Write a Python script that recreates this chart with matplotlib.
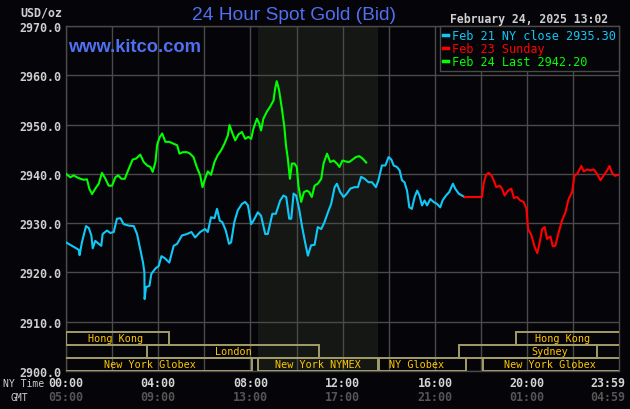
import matplotlib
matplotlib.use("Agg")
import matplotlib.pyplot as plt
from matplotlib.patches import Rectangle
from matplotlib.transforms import blended_transform_factory

# Feb 21 (NY time hours, price)
feb21_t = [0.00, 0.26, 0.55, 0.59, 0.69, 0.87, 0.99, 1.10, 1.16, 1.27, 1.42, 1.53, 1.59, 1.78, 1.92, 2.07,
           2.21, 2.36, 2.50, 2.72, 2.94, 3.08, 3.22, 3.34, 3.40, 3.41, 3.47, 3.62, 3.70, 3.88, 4.02, 4.14,
           4.28, 4.48, 4.67, 4.82, 5.03, 5.25, 5.44, 5.60, 5.82, 6.03, 6.15, 6.29, 6.44, 6.55, 6.67, 6.78,
           6.93, 7.07, 7.16, 7.30, 7.45, 7.63, 7.77, 7.89, 8.03, 8.13, 8.32, 8.46, 8.64, 8.75, 8.95, 9.10,
           9.29, 9.43, 9.55, 9.68, 9.77, 9.87, 9.98, 10.11, 10.23, 10.37, 10.49, 10.63, 10.78, 10.92, 11.07,
           11.21, 11.36, 11.50, 11.65, 11.75, 11.89, 12.04, 12.18, 12.33, 12.51, 12.66, 12.80, 12.95, 13.12,
           13.27, 13.44, 13.55, 13.70, 13.85, 13.99, 14.11, 14.21, 14.35, 14.47, 14.57, 14.68, 14.79, 14.89,
           15.00, 15.12, 15.23, 15.33, 15.44, 15.55, 15.66, 15.80, 15.94, 16.09, 16.23, 16.33, 16.48, 16.62,
           16.78, 16.88, 17.03, 17.17, 17.29]
feb21_p = [2926.1, 2925.4, 2924.6, 2923.5, 2926.1, 2929.4, 2929.0, 2927.5, 2924.9, 2926.4, 2925.8, 2925.4,
           2927.8, 2928.5, 2928.0, 2928.2, 2930.9, 2931.0, 2929.8, 2929.5, 2929.4, 2927.8, 2924.7, 2922.0,
           2920.0, 2914.6, 2917.0, 2917.3, 2919.7, 2920.8, 2921.3, 2923.3, 2922.9, 2922.0, 2925.4, 2925.8,
           2927.5, 2927.8, 2928.2, 2927.1, 2928.2, 2928.8, 2928.2, 2931.2, 2931.0, 2932.9, 2930.5, 2930.2,
           2928.5, 2925.8, 2926.1, 2930.2, 2932.6, 2933.9, 2934.3, 2933.6, 2929.8, 2930.5, 2932.2, 2931.5,
           2927.8, 2927.8, 2931.9, 2931.9, 2934.6, 2935.6, 2935.3, 2930.9, 2930.9, 2936.0, 2935.6, 2932.9,
           2929.5, 2926.1, 2923.4, 2925.5, 2925.6, 2929.2, 2928.8, 2930.2, 2932.2, 2933.9, 2937.3, 2938.0,
           2936.3, 2935.3, 2936.0, 2937.0, 2937.3, 2937.3, 2939.4, 2939.0, 2938.3, 2938.3, 2937.3, 2938.7,
           2941.7, 2941.7, 2943.4, 2942.9, 2941.7, 2941.4, 2940.7, 2938.7, 2938.3, 2936.6, 2933.2, 2932.9,
           2935.3, 2936.6, 2935.6, 2933.6, 2934.6, 2933.6, 2934.9, 2934.3, 2933.9, 2933.2, 2934.6, 2935.6,
           2936.3, 2938.0, 2937.0, 2936.0, 2935.6, 2935.3]

# Feb 23 (Sunday session)
feb23_t = [17.29, 18.04, 18.11, 18.22, 18.33, 18.45, 18.55, 18.66, 18.81, 18.91, 19.02, 19.17, 19.31, 19.43,
           19.56, 19.70, 19.85, 19.97, 20.04, 20.18, 20.33, 20.44, 20.53, 20.65, 20.76, 20.86, 21.01, 21.11,
           21.22, 21.37, 21.51, 21.66, 21.80, 21.95, 22.05, 22.17, 22.35, 22.45, 22.60, 22.74, 22.89, 23.03,
           23.18, 23.32, 23.47, 23.57, 23.68, 23.80, 23.97]
feb23_p = [2935.3, 2935.3, 2938.0, 2939.8, 2940.2, 2939.7, 2938.7, 2937.3, 2937.6, 2937.0, 2935.6, 2936.6,
           2937.0, 2935.1, 2935.3, 2934.6, 2934.3, 2932.9, 2928.8, 2927.6, 2925.1, 2923.9, 2925.8, 2928.8,
           2929.2, 2926.8, 2927.3, 2925.3, 2925.4, 2928.2, 2930.5, 2932.2, 2934.9, 2936.3, 2939.7, 2940.0,
           2941.6, 2940.5, 2940.9, 2940.7, 2940.9, 2940.0, 2938.7, 2939.7, 2940.7, 2941.6, 2940.2, 2939.6,
           2939.8]

# Feb 24
feb24_t = [0.00, 0.19, 0.33, 0.48, 0.62, 0.77, 0.91, 1.01, 1.13, 1.27, 1.42, 1.56, 1.71, 1.85, 2.00, 2.14,
           2.26, 2.40, 2.55, 2.72, 2.89, 3.04, 3.22, 3.37, 3.52, 3.66, 3.76, 3.88, 3.95, 4.05, 4.17, 4.31,
           4.48, 4.67, 4.82, 4.92, 5.07, 5.25, 5.38, 5.53, 5.67, 5.82, 5.92, 6.03, 6.15, 6.29, 6.44, 6.58,
           6.73, 6.87, 7.02, 7.09, 7.22, 7.34, 7.48, 7.63, 7.77, 7.91, 8.03, 8.13, 8.28, 8.38, 8.46, 8.56,
           8.71, 8.85, 9.00, 9.07, 9.14, 9.24, 9.36, 9.47, 9.54, 9.62, 9.71, 9.80, 9.91, 10.01, 10.08, 10.20,
           10.32, 10.45, 10.55, 10.66, 10.78, 10.92, 11.07, 11.17, 11.32, 11.46, 11.60, 11.75, 11.86, 11.99,
           12.14, 12.28, 12.43, 12.57, 12.72, 12.86, 13.02]
feb24_p = [2940.0, 2939.3, 2939.7, 2939.3, 2939.0, 2938.8, 2938.9, 2937.0, 2935.9, 2937.0, 2938.0, 2940.2,
           2939.0, 2937.6, 2937.6, 2939.3, 2939.7, 2939.0, 2939.0, 2941.0, 2942.9, 2943.1, 2943.9, 2942.4,
           2941.7, 2941.4, 2940.4, 2942.4, 2945.8, 2947.3, 2948.2, 2946.5, 2946.5, 2946.1, 2945.8, 2944.1,
           2944.4, 2944.4, 2944.1, 2943.4, 2941.4, 2939.7, 2937.3, 2939.0, 2940.5, 2939.8, 2942.4, 2943.8,
           2944.8, 2946.1, 2947.8, 2949.9, 2948.2, 2946.8, 2948.0, 2948.5, 2947.1, 2947.5, 2947.1, 2949.2,
           2951.2, 2950.2, 2948.8, 2951.2, 2952.6, 2953.6, 2954.9, 2957.3, 2958.8, 2957.0, 2953.3, 2949.5,
           2945.8, 2943.1, 2939.0, 2942.1, 2942.1, 2941.4, 2937.6, 2934.3, 2936.3, 2936.6, 2936.3, 2935.3,
           2937.6, 2938.0, 2939.0, 2942.1, 2944.1, 2942.4, 2942.7, 2942.1, 2941.4, 2942.7, 2942.5, 2942.4,
           2942.9, 2943.4, 2943.6, 2943.1, 2942.3]

series_labels = ["Feb 21 NY close 2935.30", "Feb 23 Sunday", "Feb 24 Last 2942.20"]
series_colors = ["#10c8f8", "#ff0000", "#00ff00"]

# trading sessions: (name, start hour, end hour, row)
sessions = [("Hong Kong", 0.0, 4.48, 2), ("Hong Kong", 19.53, 24.2, 2),
            ("London", 3.53, 10.99, 1), ("Sydney", 17.03, 23.02, 1),
            ("New York Globex", -0.2, 8.06, 0), ("New York NYMEX", 8.33, 13.51, 0),
            ("NY Globex", 13.57, 17.36, 0), ("New York Globex", 18.07, 24.2, 0)]
session_label_at = [2.13, 21.55, 7.25, 20.99, 3.65, 10.92, 15.22, 21.0]
nymex_span = (8.33, 13.51)

ny_ticks = [0, 4, 8, 12, 16, 20, 23.983]
ny_labels = ["00:00", "04:00", "08:00", "12:00", "16:00", "20:00", "23:59"]
gmt_labels = ["05:00", "09:00", "13:00", "17:00", "21:00", "01:00", "04:59"]
price_ticks = [2900, 2910, 2920, 2930, 2940, 2950, 2960, 2970]

BG = "#050408"
GRID = "#4a4a4a"
MONO = "DejaVu Sans Mono"

fig = plt.figure(figsize=(6.3, 4.1), dpi=100, facecolor=BG)
ax = fig.add_axes([66 / 630, 38 / 410, 553 / 630, 345 / 410], facecolor=BG)
ax.set_xlim(0, 23.983)
ax.set_ylim(2900, 2970)
ax.axvspan(*nymex_span, color="#141714", zorder=0, lw=0)
ax.set_xticks(range(0, 24, 2))
ax.set_xticklabels([])
ax.set_yticks(price_ticks, [f"{v:.1f}" for v in price_ticks])
ax.tick_params(length=0, pad=3)
for lab in ax.get_yticklabels():
    lab.set_fontfamily(MONO)
    lab.set_fontweight("bold")
    lab.set_fontsize(8.4)
    lab.set_color("#cfcfcf")
ax.grid(color=GRID, lw=1.0)
ax.set_axisbelow(True)
for s in ax.spines.values():
    s.set_color(GRID)
    s.set_linewidth(1.0)

for t, p, lab, c in zip((feb21_t, feb23_t, feb24_t), (feb21_p, feb23_p, feb24_p), series_labels, series_colors):
    ax.plot(t, p, color=c, lw=1.5, label=lab, zorder=3)

# session boxes along the bottom
tr = blended_transform_factory(ax.transData, ax.transAxes)
row_h = 13 / 345
for (name, start, end, row), cx in zip(sessions, session_label_at):
    ax.add_patch(Rectangle((start, row * row_h), end - start, row_h, transform=tr, facecolor="none",
                           edgecolor="#a39d68", lw=1.4, zorder=4, clip_on=True))
    ax.text(cx, (row + 0.5) * row_h, name, transform=tr, ha="center", va="center", fontsize=7.3,
            family=MONO, color="#ffc800", zorder=5)

leg = ax.legend(loc="upper right", borderaxespad=0, fancybox=False, frameon=True, handlelength=0.45,
                handletextpad=0.35, labelspacing=0.02, borderpad=0.25, labelcolor="linecolor",
                prop={"family": MONO, "size": 8.6})
leg.get_frame().set_facecolor(BG)
leg.get_frame().set_edgecolor(GRID)
leg.get_frame().set_alpha(1)
leg.get_frame().set_linewidth(1.0)
leg.set_zorder(6)
for h in leg.legend_handles:
    h.set_linewidth(2.5)

# time axis labels
for x, ny, gmt in zip(ny_ticks, ny_labels, gmt_labels):
    ha = "right" if ny == "23:59" else "center"
    xx = 24.25 if ny == "23:59" else x
    ax.text(xx, -0.033, ny, transform=tr, ha=ha, va="center", family=MONO, fontsize=8.4,
            fontweight="bold", color="#d4d4d4")
    ax.text(xx, -0.074, gmt, transform=tr, ha=ha, va="center", family=MONO, fontsize=8.4,
            fontweight="bold", color="#555555")
fig.text(44 / 630, 1 - 384.5 / 410, "NY Time", ha="right", va="center", family=MONO, fontsize=7.0, color="#cfcfcf")
fig.text(28 / 630, 1 - 398 / 410, "GMT", ha="right", va="center", family=MONO, fontsize=7.0, color="#cfcfcf")

fig.text(62 / 630, 1 - 13 / 410, "USD/oz", ha="right", va="center", family=MONO, fontsize=8.4,
         fontweight="bold", color="#cfcfcf")
fig.text(294 / 630, 1 - 16 / 410, "24 Hour Spot Gold (Bid)", ha="center", va="center",
         family="Liberation Sans", fontsize=13.8, color="#4f70f0")
fig.text(608 / 630, 1 - 20 / 410, "February 24, 2025 13:02", ha="right", va="center", family=MONO,
         fontsize=8.3, fontweight="bold", color="#cfcfcf")
fig.text(68 / 630, 1 - 48 / 410, "www.kitco.com", ha="left", va="center", family="Liberation Sans",
         fontsize=13.2, fontweight="bold", color="#4f70f0")

fig.savefig("out.png", dpi=100, facecolor=BG)
